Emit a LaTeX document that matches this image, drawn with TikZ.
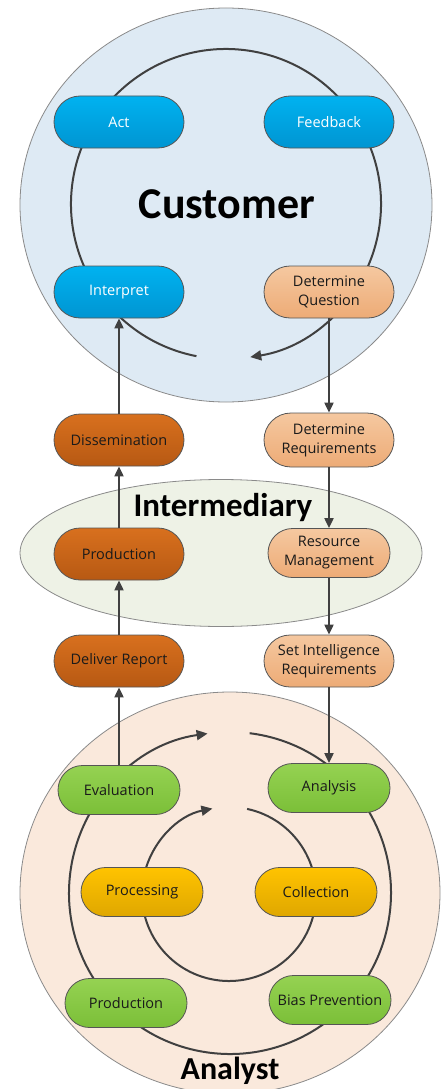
\documentclass[tikz,border=0pt]{standalone}
\usepackage{fontspec}
\setmainfont{Open Sans}
\newfontfamily\headfont{Carlito}
\usetikzlibrary{arrows.meta}
\definecolor{custfill}{HTML}{DEEAF4}
\definecolor{interfill}{HTML}{EEF2E6}
\definecolor{anafill}{HTML}{FAE9DC}
\definecolor{rimgray}{HTML}{8A8A8A}
\definecolor{linegray}{HTML}{404040}
\definecolor{bordergray}{HTML}{555555}
\definecolor{blueT}{HTML}{00B2F0}
\definecolor{blueB}{HTML}{0095D2}
\definecolor{peachT}{HTML}{F5C8A0}
\definecolor{peachB}{HTML}{EDAB76}
\definecolor{rustT}{HTML}{D8701E}
\definecolor{rustB}{HTML}{B75913}
\definecolor{greenT}{HTML}{95D252}
\definecolor{greenB}{HTML}{7BBF38}
\definecolor{goldT}{HTML}{FFC300}
\definecolor{goldB}{HTML}{DFA700}
\definecolor{txtdark}{HTML}{1A1A1A}
\tikzset{
  pillbox/.style={draw=bordergray, line width=0.8pt, align=center, inner sep=0pt,
    font=\fontsize{14.5}{19}\selectfont, text=txtdark},
  pillA/.style={pillbox, minimum width=130pt, minimum height=52pt, rounded corners=26pt},
  pillB/.style={pillbox, minimum width=122pt, minimum height=49pt, rounded corners=24.5pt},
  bluepill/.style={top color=blueT, bottom color=blueB, text=white},
  peachpill/.style={top color=peachT, bottom color=peachB},
  rustpill/.style={top color=rustT, bottom color=rustB},
  greenpill/.style={top color=greenT, bottom color=greenB},
  goldpill/.style={top color=goldT, bottom color=goldB},
  zone/.style={draw=rimgray, line width=0.8pt},
  ring/.style={draw=linegray, line width=2pt},
  conn/.style={draw=linegray, line width=2pt, -{Triangle[length=10pt,width=9pt]}},
  ringarrow/.style={ring, -{Triangle[length=11pt,width=10pt]}},
  headlabel/.style={anchor=base, inner sep=0pt, text=black}
}
\begin{document}
\begin{tikzpicture}[x=1pt,y=-1pt]
\useasboundingbox (0,0) rectangle (445,1089);
% zones
\path[zone, fill=custfill] (226,205) ellipse [x radius=206pt, y radius=197pt];
\path[zone, fill=anafill] (230,893) ellipse [x radius=210pt, y radius=201pt];
% customer ring
\coordinate (cc) at (226,204);
\draw[ringarrow] (cc) ++(259:155pt) arc[start angle=259, end angle=-81, radius=155pt];
% analyst rings
\coordinate (ac) at (230,893);
\coordinate (ai) at (229,894);
\draw[ringarrow] (ac) ++(83:161pt) arc[start angle=83, end angle=-262, radius=161pt];
\draw[ringarrow] (ai) ++(78:87pt) arc[start angle=78, end angle=-259, radius=87pt];
% intermediary zone
\path[zone, fill=interfill] (221,553) ellipse [x radius=201pt, y radius=73.5pt];
% nodes
\node[pillA, bluepill] (act) at (119,122) {Act};
\node[pillA, bluepill] (feed) at (329,122) {Feedback};
\node[pillA, bluepill] (interp) at (119,292) {Interpret};
\node[pillA, peachpill] (detq) at (329,292) {Determine\\Question};
\node[pillA, rustpill] (dissem) at (119,440) {Dissemination};
\node[pillA, peachpill, minimum height=54pt, rounded corners=27pt] (detr) at (329,440) {Determine\\Requirements};
\node[pillA, rustpill] (prodm) at (119,554) {Production};
\node[pillB, peachpill] (resm) at (329,553) {Resource\\Management};
\node[pillA, rustpill] (deliv) at (119,661) {Deliver Report};
\node[pillA, peachpill] (setir) at (329,661) {Set Intelligence\\Requirements};
\node[pillB, greenpill] (evalu) at (119,790) {Evaluation};
\node[pillB, greenpill] (anal) at (329,788) {Analysis};
\node[pillB, goldpill] (proc) at (142,892) {Processing};
\node[pillB, goldpill] (coll) at (316,892) {Collection};
\node[pillB, greenpill] (proda) at (126,1003) {Production};
\node[pillB, greenpill] (bias) at (330,1000) {Bias Prevention};
% connectors
\draw[conn] (dissem.north) -- (interp.south);
\draw[conn] (prodm.north) -- (dissem.south);
\draw[conn] (deliv.north) -- (prodm.south);
\draw[conn] (evalu.north) -- (deliv.south);
\draw[conn] (detq.south) -- (detr.north);
\draw[conn] (detr.south) -- (resm.north);
\draw[conn] (resm.south) -- (setir.north);
\draw[conn] (setir.south) -- (anal.north);
% headings
\node[headlabel, font=\headfont\bfseries\fontsize{44}{44}\selectfont] (custlbl) at (227,218) {Customer};
\node[headlabel, font=\headfont\bfseries\fontsize{33}{33}\selectfont] (interlbl) at (223,516) {Intermediary};
\node[headlabel, font=\headfont\bfseries\fontsize{32}{32}\selectfont] (analbl) at (230,1079) {Analyst};
\end{tikzpicture}
\end{document}
